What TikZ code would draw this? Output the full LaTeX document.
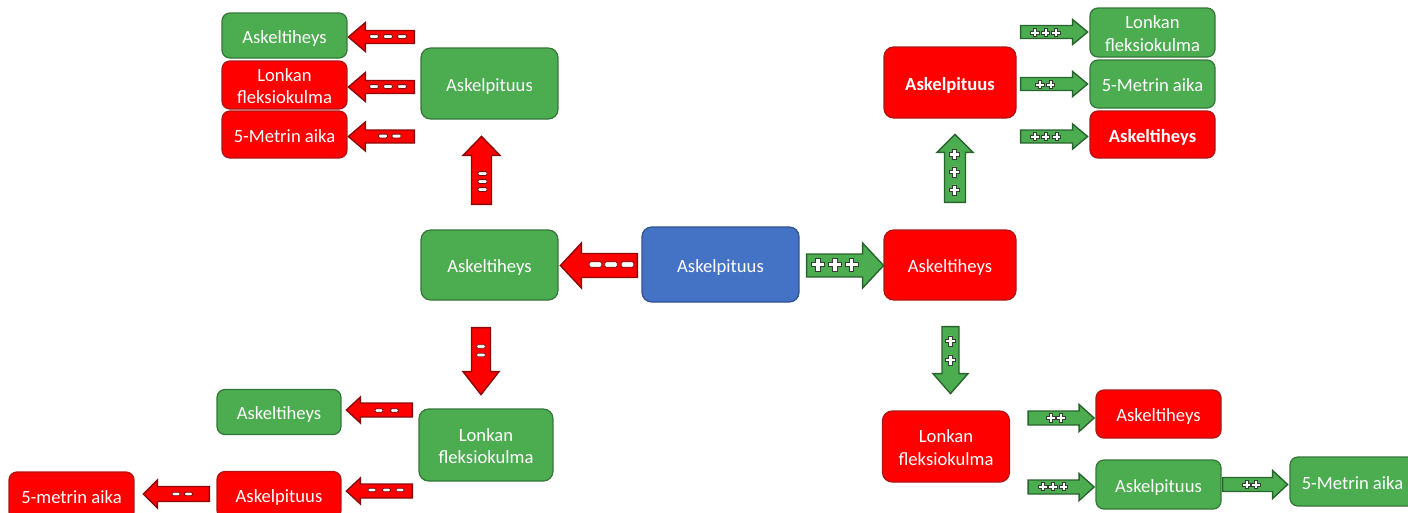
\documentclass[tikz,border=0pt]{standalone}
\usepackage{fontspec}
\setmainfont{Carlito}
\usetikzlibrary{calc}
\definecolor{gfill}{RGB}{76,173,80}
\definecolor{gline}{RGB}{52,118,56}
\definecolor{rfill}{RGB}{255,0,0}
\definecolor{rline}{RGB}{175,20,20}
\definecolor{bfill}{RGB}{68,114,196}
\definecolor{bline}{RGB}{47,82,143}
\definecolor{arline}{RGB}{140,10,10}
\definecolor{agline}{RGB}{40,100,45}
\definecolor{mline}{RGB}{110,20,20}
\definecolor{pline}{RGB}{55,60,55}
\tikzset{
  box/.style={rounded corners=4.5pt, line width=0.7pt, text=white, align=center,
    inner sep=0pt, font=\fontsize{10.6}{13}\selectfont,
    execute at begin node={\rule{0pt}{11.2pt}},
    execute at end node={\rule[-2.4pt]{0pt}{2.4pt}}},
  twoline/.style={execute at begin node={\rule{0pt}{24pt}}},
  gbox/.style={box, fill=gfill, draw=gline},
  rbox/.style={box, fill=rfill, draw=rline},
  bbox/.style={box, fill=bfill, draw=bline},
  redarrow/.style={fill=rfill, draw=arline, line width=0.8pt, line join=miter},
  greenarrow/.style={fill=gfill, draw=agline, line width=0.8pt, line join=miter},
  mm/.pic={\draw[fill=white, draw=mline, line width=0.45pt, rounded corners=0.7pt]
      (-4.5,-1.9) rectangle (4.5,1.9);},
  pp/.pic={\draw[fill=white, draw=pline, line width=0.45pt]
      (-1.6,-4.6) -- (1.6,-4.6) -- (1.6,-1.6) -- (4.6,-1.6) -- (4.6,1.6) -- (1.6,1.6)
      -- (1.6,4.6) -- (-1.6,4.6) -- (-1.6,1.6) -- (-4.6,1.6) -- (-4.6,-1.6) -- (-1.6,-1.6) -- cycle;},
}
% #1 style, #2 tail, #3 angle, #4 length, #5 shaft half width, #6 head half width, #7 head length
\newcommand\blockarrow[7]{%
  \begin{scope}[shift={#2}, rotate=#3]
    \draw[#1] (0,-#5) -- ({#4-#7},-#5) -- ({#4-#7},-#6) -- (#4,0) -- ({#4-#7},#6)
      -- ({#4-#7},#5) -- (0,#5) -- cycle;
  \end{scope}}
\begin{document}
\begin{tikzpicture}[x=0.02cm, y=-0.02cm]
\useasboundingbox (0,0) rectangle (1408,512);
\clip (0,0) rectangle (1408,512);
\fill[white] (0,0) rectangle (1408,512);

% ---- boxes ----
\node[gbox, minimum width=2.5cm, minimum height=0.90cm] (tlA) at (284.5,35.5) {Askeltiheys};
\node[rbox, twoline, minimum width=2.5cm, minimum height=0.96cm] (tlB) at (284.5,85) {Lonkan\\fleksiokulma};
\node[rbox, minimum width=2.5cm, minimum height=0.94cm] (tlC) at (284.5,134.5) {5-Metrin aika};
\node[gbox, rounded corners=5.5pt, minimum width=2.74cm, minimum height=1.42cm] (apL) at (489.5,83.5) {Askelpituus};
\node[gbox, rounded corners=5.5pt, minimum width=2.74cm, minimum height=1.40cm] (atL) at (489.5,265) {Askeltiheys};
\node[bbox, rounded corners=5.5pt, minimum width=3.14cm, minimum height=1.50cm] (ctr) at (720.5,264.5) {Askelpituus};
\node[rbox, rounded corners=5.5pt, minimum width=2.64cm, minimum height=1.40cm] (atR) at (950,265) {Askeltiheys};
\node[rbox, rounded corners=5.5pt, minimum width=2.64cm, minimum height=1.42cm, font=\fontsize{10.6}{13}\selectfont\bfseries] (apR) at (950,82.5) {Askelpituus};
\node[gbox, twoline, minimum width=2.5cm, minimum height=0.98cm] (trA) at (1152.5,32.5) {Lonkan\\fleksiokulma};
\node[gbox, minimum width=2.5cm, minimum height=0.96cm] (trB) at (1152.5,84) {5-Metrin aika};
\node[rbox, minimum width=2.5cm, minimum height=0.94cm, font=\fontsize{10.6}{13}\selectfont\bfseries] (trC) at (1152.5,134.5) {Askeltiheys};
\node[gbox, twoline, rounded corners=5.5pt, minimum width=2.68cm, minimum height=1.44cm] (lkL) at (486,445) {Lonkan\\fleksiokulma};
\node[gbox, minimum width=2.48cm, minimum height=0.90cm] (blA) at (279,412) {Askeltiheys};
\node[rbox, minimum width=2.48cm, minimum height=0.94cm] (blB) at (279,495) {Askelpituus};
\node[rbox, minimum width=2.5cm, minimum height=0.96cm] (blC) at (71.5,496) {5-metrin aika};
\node[rbox, twoline, rounded corners=5.5pt, minimum width=2.54cm, minimum height=1.42cm] (lkR) at (946,446.5) {Lonkan\\fleksiokulma};
\node[rbox, minimum width=2.5cm, minimum height=0.96cm] (brA) at (1158.5,414) {Askeltiheys};
\node[gbox, minimum width=2.5cm, minimum height=0.98cm] (brB) at (1158.5,484.5) {Askelpituus};
\node[gbox, minimum width=2.5cm, minimum height=0.98cm] (brC) at (1352.5,481.5) {5-Metrin aika};

% ---- block arrows ----
% top left
\blockarrow{redarrow}{($(apL.west|-tlA.east)+(-6,1.5)$)}{180}{66}{6.5}{14.5}{17}
\blockarrow{redarrow}{($(apL.west|-tlB.east)+(-6,2)$)}{180}{66}{6.5}{14.5}{17}
\blockarrow{redarrow}{($(apL.west|-tlC.east)+(-6,2)$)}{180}{66}{6.5}{14.5}{17}
\foreach \x in {374,388,402} {\pic at (\x,36.5) {mm};}
\foreach \x in {374,388,402} {\pic at (\x,86.5) {mm};}
\foreach \x in {383,396.5} {\pic at (\x,136) {mm};}
% centre
\blockarrow{redarrow}{($(ctr.west)+(-4,1)$)}{180}{77}{12}{22.5}{21}
\blockarrow{greenarrow}{($(ctr.east)+(7,1)$)}{0}{77}{11.5}{22.5}{21}
\foreach \x in {595.5,611,627.5} {\pic[scale=1.4] at (\x,264.5) {mm};}
\foreach \x in {818,835,851.5} {\pic[scale=1.4] at (\x,264.5) {pp};}
% vertical
\blockarrow{redarrow}{($(atL.north)+(-8,-25)$)}{90}{68}{10}{18.5}{19}
\foreach \y in {173.5,181.5,189.5} {\pic at (482.5,\y) {mm};}
\blockarrow{greenarrow}{($(atR.north)+(5,-27)$)}{90}{68}{10.5}{18}{18}
\foreach \y in {154.5,172,190} {\pic[scale=1.1] at (954.5,\y) {pp};}
\blockarrow{redarrow}{($(atL.south)+(-8.5,27)$)}{-90}{67}{9.5}{18}{23}
\foreach \y in {346.5,355} {\pic[scale=0.95] at (481,\y) {mm};}
\blockarrow{greenarrow}{($(atR.south)+(0.5,26)$)}{-90}{67}{8.5}{17.5}{20}
\foreach \y in {341,360} {\pic[scale=1.1] at (950.5,\y) {pp};}
% bottom left
\blockarrow{redarrow}{($(lkL.west|-blA.east)+(-6,-2)$)}{180}{66}{7}{13}{14}
\blockarrow{redarrow}{($(lkL.west|-blB.east)+(-6,-4)$)}{180}{66}{7}{13}{14}
\blockarrow{redarrow}{($(blB.west|-blC.east)+(-7,-2)$)}{180}{66}{7.5}{14}{14}
\foreach \x in {379,394.5} {\pic[scale=0.9] at (\x,410.5) {mm};}
\foreach \x in {372,386.5,400} {\pic[scale=0.9] at (\x,490) {mm};}
\foreach \x in {176,188.5} {\pic[scale=0.9] at (\x,494) {mm};}
% top right
\blockarrow{greenarrow}{($(apR.east|-trA.west)+(4,-0.5)$)}{0}{67}{6.5}{12.5}{15}
\blockarrow{greenarrow}{($(apR.east|-trB.west)+(4,0)$)}{0}{67}{6.5}{12.5}{15}
\blockarrow{greenarrow}{($(apR.east|-trC.west)+(4,2)$)}{0}{67}{6.5}{12.5}{15}
\foreach \x in {1035,1045.5,1056} {\pic[scale=0.9] at (\x,32.5) {pp};}
\foreach \x in {1040,1050.5} {\pic[scale=0.9] at (\x,84.5) {pp};}
\foreach \x in {1035,1045.5,1056.5} {\pic[scale=0.9] at (\x,136.5) {pp};}
% bottom right
\blockarrow{greenarrow}{($(lkR.east|-brA.west)+(18,4)$)}{0}{66}{7}{13.5}{15}
\blockarrow{greenarrow}{($(lkR.east|-brB.west)+(18,2.5)$)}{0}{66}{7}{13.5}{15}
\blockarrow{greenarrow}{($(brB.east)+(1,0)$)}{0}{65}{7}{14}{15}
\foreach \x in {1051,1061} {\pic[scale=0.9] at (\x,418) {pp};}
\foreach \x in {1043,1053,1063.5} {\pic[scale=0.9] at (\x,486.5) {pp};}
\foreach \x in {1246.5,1256} {\pic[scale=0.9] at (\x,484.5) {pp};}
\end{tikzpicture}
\end{document}
